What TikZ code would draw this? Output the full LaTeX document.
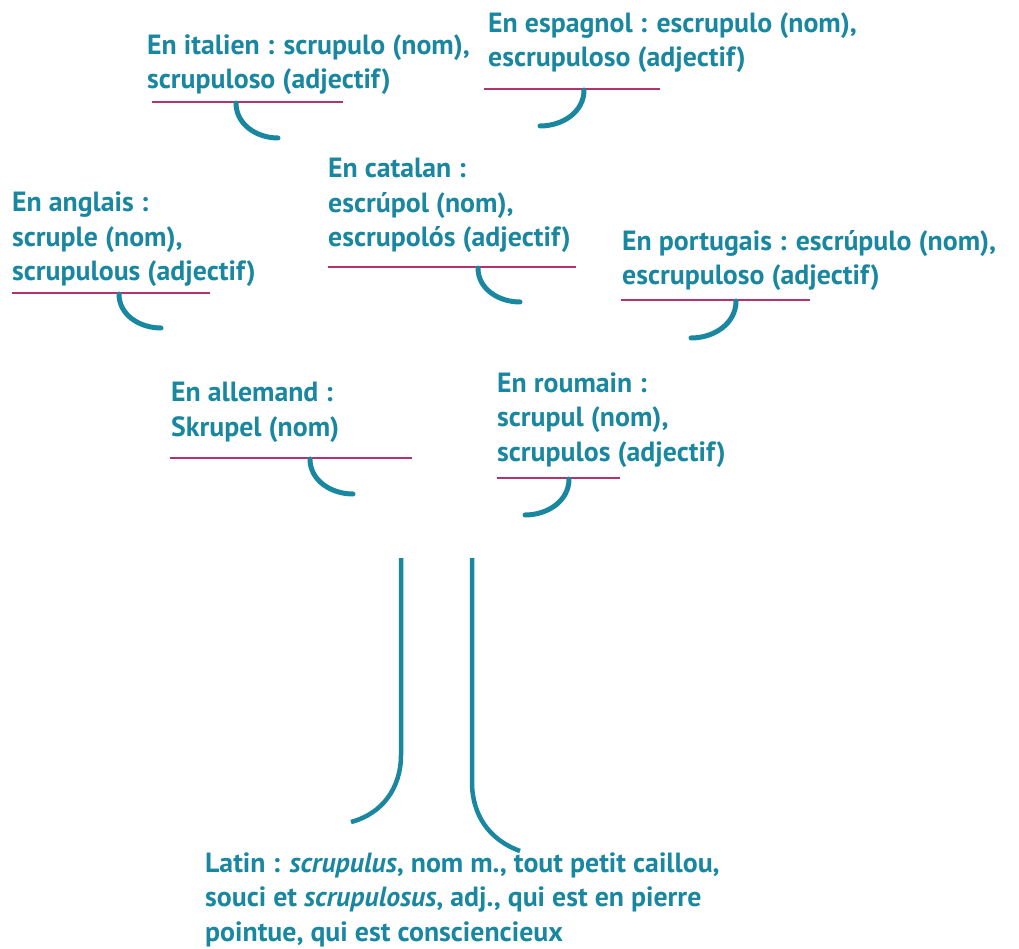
\documentclass[tikz,border=0pt]{standalone}
\usepackage{fontspec}
\setmainfont{PT Sans}
\definecolor{tealc}{HTML}{1A87A0}
\definecolor{magc}{HTML}{B3326F}
\begin{document}
\begin{tikzpicture}[x=1pt,y=-1pt,
  lang/.style={anchor=base west, inner sep=0pt, align=left, text=tealc,
    font=\fontsize{27.8}{34.5}\selectfont\bfseries},
  uline/.style={draw=magc, line width=2.6pt},
  hook/.style={draw=tealc, line width=5pt, line cap=round},
  trunk/.style={draw=tealc, line width=4.5pt}]
\useasboundingbox (0,0) rectangle (1019,949);

% Italian (anchor = baseline of last line)
\node[lang] (it) at (147,89) {En italien : scrupulo (nom),\\scrupuloso (adjectif)};
\coordinate (itA) at (152,102); \coordinate (itB) at (343,102);
\draw[uline] (itA) -- (itB);
\coordinate (itH) at (236,103); \coordinate (itE) at (278,138);
\draw[hook] (itH) to[out=-90,in=180] (itE);

% Spanish
\node[lang] (es) at (488,67) {En espagnol : escrupulo (nom),\\escrupuloso (adjectif)};
\coordinate (esA) at (484,89); \coordinate (esB) at (660,89);
\draw[uline] (esA) -- (esB);
\coordinate (esH) at (584,90); \coordinate (esE) at (540,126);
\draw[hook] (esH) to[out=-90,in=0] (esE);

% Catalan
\node[lang] (ca) at (328,247) {En catalan :\\escrúpol (nom),\\escrupolós (adjectif)};
\coordinate (caA) at (328,267); \coordinate (caB) at (576,267);
\draw[uline] (caA) -- (caB);
\coordinate (caH) at (478,268); \coordinate (caE) at (520,302);
\draw[hook] (caH) to[out=-90,in=180] (caE);

% English
\node[lang] (en) at (12,281) {En anglais :\\scruple (nom),\\scrupulous (adjectif)};
\coordinate (enA) at (12,293); \coordinate (enB) at (210,293);
\draw[uline] (enA) -- (enB);
\coordinate (enH) at (119,294); \coordinate (enE) at (161,328);
\draw[hook] (enH) to[out=-90,in=180] (enE);

% Portuguese
\node[lang] (pt) at (622,285) {En portugais : escrúpulo (nom),\\escrupuloso (adjectif)};
\coordinate (ptA) at (621,300); \coordinate (ptB) at (810,300);
\draw[uline] (ptA) -- (ptB);
\coordinate (ptH) at (736,301); \coordinate (ptE) at (691,338);
\draw[hook] (ptH) to[out=-90,in=0] (ptE);

% German
\node[lang] (de) at (171,436) {En allemand :\\Skrupel (nom)};
\coordinate (deA) at (170,458); \coordinate (deB) at (412,458);
\draw[uline] (deA) -- (deB);
\coordinate (deH) at (310,459); \coordinate (deE) at (353,494);
\draw[hook] (deH) to[out=-90,in=180] (deE);

% Romanian
\node[lang] (ro) at (497,461) {En roumain :\\scrupul (nom),\\scrupulos (adjectif)};
\coordinate (roA) at (497,478); \coordinate (roB) at (620,478);
\draw[uline] (roA) -- (roB);
\coordinate (roH) at (569,479); \coordinate (roE) at (525,515);
\draw[hook] (roH) to[out=-90,in=0] (roE);

% Trunk
\coordinate (t1) at (401,558); \coordinate (t1b) at (401,755); \coordinate (t1e) at (351,822);
\coordinate (t2) at (472,558); \coordinate (t2b) at (472,782); \coordinate (t2e) at (520,851);
\draw[trunk] (t1) -- (t1b) to[out=-90,in=15] (t1e);
\draw[trunk] (t2) -- (t2b) to[out=-90,in=160] (t2e);

% Latin
\node[lang] (la) at (205,941) {Latin : \textit{scrupulus}, nom m., tout petit caillou,\\souci et \textit{scrupulosus}, adj., qui est en pierre\\pointue, qui est consciencieux};
\end{tikzpicture}
\end{document}
